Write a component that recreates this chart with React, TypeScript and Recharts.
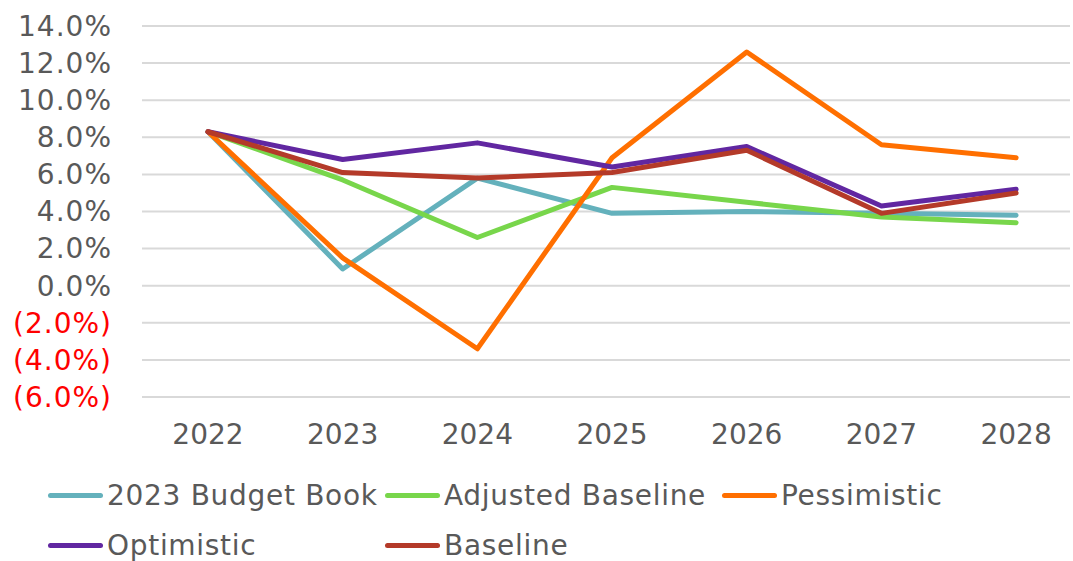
import React from 'react';
import { LineChart, Line, XAxis, YAxis, CartesianGrid } from 'recharts';

const years = [2022, 2023, 2024, 2025, 2026, 2027, 2028];
const budgetBook = [8.3, 0.9, 5.8, 3.9, 4.0, 3.9, 3.8];
const adjustedBaseline = [8.3, 5.7, 2.6, 5.3, 4.5, 3.7, 3.4];
const pessimistic = [8.3, 1.5, -3.4, 6.9, 12.6, 7.6, 6.9];
const optimistic = [8.3, 6.8, 7.7, 6.4, 7.5, 4.3, 5.2];
const baseline = [8.3, 6.1, 5.8, 6.1, 7.3, 3.9, 5.0];
const yTicks = [-6, -4, -2, 0, 2, 4, 6, 8, 10, 12, 14];

const SERIES = [
  { key: 'budgetBook', name: '2023 Budget Book', color: '#64B1BC', values: budgetBook },
  { key: 'adjustedBaseline', name: 'Adjusted Baseline', color: '#78D64B', values: adjustedBaseline },
  { key: 'pessimistic', name: 'Pessimistic', color: '#FF6F00', values: pessimistic },
  { key: 'optimistic', name: 'Optimistic', color: '#6127A1', values: optimistic },
  { key: 'baseline', name: 'Baseline', color: '#B43A29', values: baseline },
];

const data = years.map((year, i) => {
  const row: Record<string, number> = { year };
  SERIES.forEach(s => { row[s.key] = s.values[i]; });
  return row;
});

const FONT = '"DejaVu Sans", Verdana, sans-serif';
const GRAY = '#595959';

const YTick = (props: any) => {
  const { x, y, payload } = props;
  const v = payload.value as number;
  const label = v < 0 ? `(${Math.abs(v).toFixed(1)}%)` : `${v.toFixed(1)}%`;
  return (
    <text x={x} y={y} dy="0.35em" textAnchor="end" fontSize={28} letterSpacing={1} fontFamily={FONT} fill={v < 0 ? '#FF0000' : GRAY}>
      {label}
    </text>
  );
};

const App: React.FC = () => {
  return (
    <div style={{ position: 'absolute', left: 0, top: 0, width: 1073, height: 561, background: '#fff', fontFamily: FONT }}>
      <LineChart width={1073} height={561} data={data} margin={{ top: 26, right: 3, left: 0, bottom: 104 }}>
        <CartesianGrid horizontal vertical={false} stroke="#D9D9D9" strokeWidth={2} />
        <XAxis
          dataKey="year"
          type="number"
          domain={[2021.51, 2028.4]}
          ticks={years}
          allowDecimals={false}
          axisLine={false}
          tickLine={false}
          tickSize={0}
          tickMargin={27}
          height={60}
          tick={{ fontSize: 28, fontFamily: FONT, fill: GRAY }}
        />
        <YAxis
          domain={[-6, 14]}
          ticks={yTicks}
          axisLine={false}
          tickLine={false}
          tickSize={0}
          tickMargin={30}
          width={142}
          tick={<YTick />}
        />
        {SERIES.map(s => (
          <Line
            key={s.key}
            dataKey={s.key}
            name={s.name}
            stroke={s.color}
            strokeWidth={5}
            strokeLinecap="round"
            strokeLinejoin="round"
            dot={false}
            activeDot={false}
            isAnimationActive={false}
          />
        ))}
      </LineChart>

      {/* legend, laid out like Excel's: 3 columns */}
      <div style={{ position: 'absolute', left: 48, top: 470, width: 1020, display: 'flex', flexWrap: 'wrap' }}>
        {SERIES.map(s => (
          <div key={s.key} style={{ width: 337, height: 50, display: 'flex', alignItems: 'center' }}>
            <span style={{ width: 55, height: 5, borderRadius: 3, background: s.color, marginRight: 4, flexShrink: 0 }} />
            <span style={{ fontSize: 28, color: GRAY, whiteSpace: 'nowrap', letterSpacing: 0.7 }}>{s.name}</span>
          </div>
        ))}
      </div>
    </div>
  );
};

export default App;
